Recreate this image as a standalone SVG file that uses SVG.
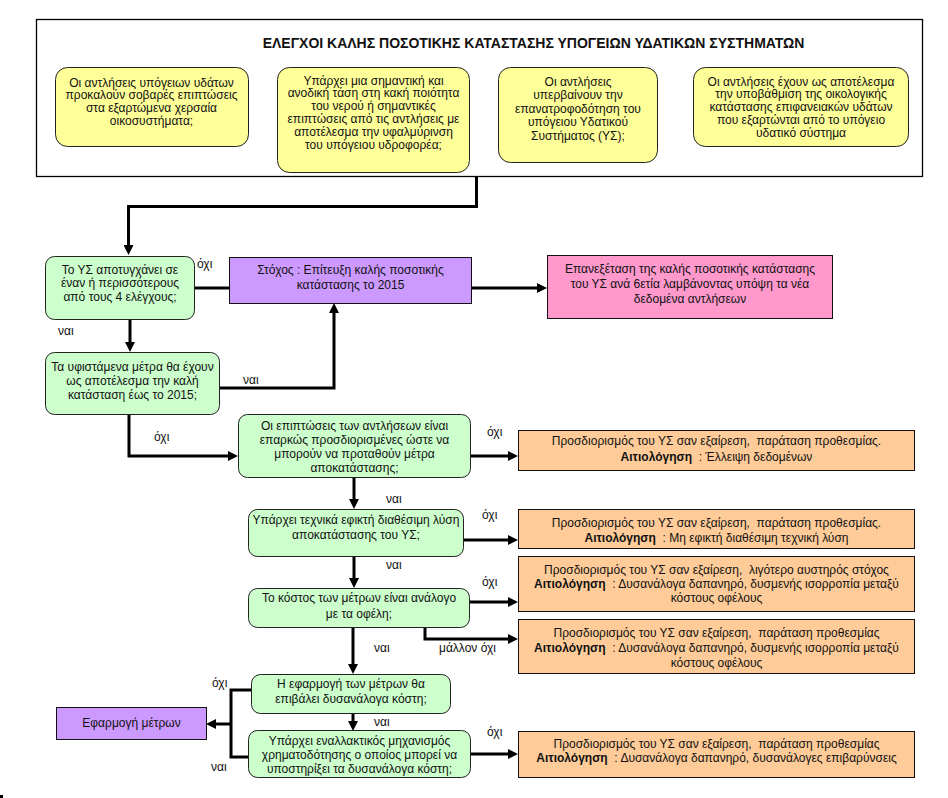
<svg xmlns="http://www.w3.org/2000/svg" width="948" height="798" viewBox="0 0 948 798">
<defs>
<style>
text{font-family:"Liberation Sans",Arial,sans-serif;font-size:12px;fill:#111;}
.y{font-size:12px;}
.c{text-anchor:middle;}
.b{font-weight:bold;}
.title{font-size:14px;font-weight:bold;text-anchor:middle;}
.yel{fill:#FFFF99;stroke:#222;stroke-width:1;}
.grn{fill:#CCFFCC;stroke:#222;stroke-width:1;}
.pur{fill:#CC99FF;stroke:#111;stroke-width:1;}
.pnk{fill:#FF99CC;stroke:#111;stroke-width:1;}
.org{fill:#FFCC99;stroke:#111;stroke-width:1;}
.ln{fill:none;stroke:#000;stroke-width:3;}
</style>
<marker id="ah" viewBox="0 0 10 10" refX="0" refY="5" markerWidth="10" markerHeight="10" markerUnits="userSpaceOnUse" orient="auto">
<path d="M0,0 L10,5 L0,10 z" fill="#000"/>
</marker>
</defs>
<rect width="948" height="798" fill="#fff"/>

<g id="frame">
<rect x="36.5" y="19.5" width="886" height="157" fill="#fff" stroke="#000" stroke-width="1.3"/>
<text class="title" x="533.5" y="48">ΕΛΕΓΧΟΙ ΚΑΛΗΣ ΠΟΣΟΤΙΚΗΣ ΚΑΤΑΣΤΑΣΗΣ ΥΠΟΓΕΙΩΝ ΥΔΑΤΙΚΩΝ ΣΥΣΤΗΜΑΤΩΝ</text>
</g>

<g id="check1">
<rect class="yel" x="55.5" y="67.5" width="193" height="79" rx="12"/>
<text class="c y" x="151.5" y="86.5">Οι αντλήσεις υπόγειων υδάτων</text>
<text class="c y" x="151.5" y="99.2">προκαλούν σοβαρές επιπτώσεις</text>
<text class="c y" x="151.5" y="111.9">στα εξαρτώμενα χερσαία</text>
<text class="c y" x="151.5" y="124.6">οικοσυστήματα;</text>
</g>
<g id="check2">
<rect class="yel" x="277.5" y="67.5" width="192" height="105" rx="12"/>
<text class="c y" x="373.5" y="84.5">Υπάρχει μια σημαντική και</text>
<text class="c y" x="373.5" y="97.3">ανοδική τάση στη κακή ποιότητα</text>
<text class="c y" x="373.5" y="110.1">του νερού ή σημαντικές</text>
<text class="c y" x="373.5" y="122.9">επιπτώσεις από τις αντλήσεις με</text>
<text class="c y" x="373.5" y="135.7">αποτέλεσμα την υφαλμύρινση</text>
<text class="c y" x="373.5" y="148.5">του υπόγειου υδροφορέα;</text>
</g>
<g id="check3">
<rect class="yel" x="498.5" y="67.5" width="159" height="95" rx="12"/>
<text class="c y" x="578" y="86">Οι αντλήσεις</text>
<text class="c y" x="578" y="99.4">υπερβαίνουν την</text>
<text class="c y" x="578" y="112.8">επανατροφοδότηση του</text>
<text class="c y" x="578" y="126.2">υπόγειου Υδατικού</text>
<text class="c y" x="578" y="139.6">Συστήματος (ΥΣ);</text>
</g>
<g id="check4">
<rect class="yel" x="693.5" y="67.5" width="215" height="79" rx="12"/>
<text class="c y" x="801" y="85.5">Οι αντλήσεις έχουν ως αποτέλεσμα</text>
<text class="c y" x="801" y="98.4">την υποβάθμιση της οικολογικής</text>
<text class="c y" x="801" y="111.3">κατάστασης επιφανειακών υδάτων</text>
<text class="c y" x="801" y="124.2">που εξαρτώνται από το υπόγειο</text>
<text class="c y" x="801" y="137.1">υδατικό σύστημα</text>
</g>

<g id="connectors">
<path class="ln" d="M476.5,176 V206.5 H128.5 V245" marker-end="url(#ah)"/>
<path class="ln" d="M194,288 H229"/>
<path class="ln" d="M471,288 H537" marker-end="url(#ah)"/>
<path class="ln" d="M130,319 V342" marker-end="url(#ah)"/>
<path class="ln" d="M219,388 H334 V313" marker-end="url(#ah)"/>
<path class="ln" d="M129,414 V456 H228" marker-end="url(#ah)"/>
<path class="ln" d="M470,456 H508" marker-end="url(#ah)"/>
<path class="ln" d="M354,477 V499" marker-end="url(#ah)"/>
<path class="ln" d="M463,540 H508" marker-end="url(#ah)"/>
<path class="ln" d="M354,556 V578" marker-end="url(#ah)"/>
<path class="ln" d="M469,602 H508" marker-end="url(#ah)"/>
<path class="ln" d="M425,627 V639 H508" marker-end="url(#ah)"/>
<path class="ln" d="M353,627 V664" marker-end="url(#ah)"/>
<path class="ln" d="M353,713 V721" marker-end="url(#ah)"/>
<path class="ln" d="M251,690 H231 V757 H248"/>
<path class="ln" d="M231,724 H216" marker-end="url(#ah)"/>
<path class="ln" d="M470,754 H508" marker-end="url(#ah)"/>
<text x="197" y="268">όχι</text>
<text x="58" y="335">ναι</text>
<text x="243" y="384">ναι</text>
<text x="154" y="441">όχι</text>
<text x="487" y="436">όχι</text>
<text x="386" y="503">ναι</text>
<text x="482" y="519">όχι</text>
<text x="386" y="569">ναι</text>
<text x="482" y="586">όχι</text>
<text x="374" y="652">ναι</text>
<text x="439" y="652">μάλλον όχι</text>
<text x="212" y="687">όχι</text>
<text x="374" y="726">ναι</text>
<text x="211" y="771">ναι</text>
<text x="487" y="736">όχι</text>
</g>

<g id="q1">
<rect class="grn" x="45.5" y="256.5" width="149" height="63" rx="9"/>
<text class="c" x="120" y="273.5">Το ΥΣ αποτυγχάνει σε</text>
<text class="c" x="120" y="287">έναν ή περισσότερους</text>
<text class="c" x="120" y="300.5">από τους 4 ελέγχους;</text>
</g>
<g id="goal">
<rect class="pur" x="229.5" y="257.5" width="242" height="46"/>
<text class="c" x="350.5" y="273.5">Στόχος : Επίτευξη καλής ποσοτικής</text>
<text class="c" x="350.5" y="288.5">κατάστασης το 2015</text>
</g>
<g id="review">
<rect class="pnk" x="547.5" y="255.5" width="285" height="63"/>
<text class="c" x="690" y="272.5">Επανεξέταση της καλής ποσοτικής κατάστασης</text>
<text class="c" x="690" y="287.5">του ΥΣ ανά 6ετία λαμβάνοντας υπόψη τα νέα</text>
<text class="c" x="690" y="302.5">δεδομένα αντλήσεων</text>
</g>
<g id="q2">
<rect class="grn" x="45.5" y="352.5" width="174" height="62" rx="9"/>
<text class="c" x="132.5" y="371">Τα υφιστάμενα μέτρα θα έχουν</text>
<text class="c" x="132.5" y="385">ως αποτέλεσμα την καλή</text>
<text class="c" x="132.5" y="399">κατάσταση έως το 2015;</text>
</g>
<g id="q3">
<rect class="grn" x="238.5" y="414.5" width="232" height="63" rx="9"/>
<text class="c" x="354.5" y="429.5">Οι επιπτώσεις των αντλήσεων είναι</text>
<text class="c" x="354.5" y="443.5">επαρκώς προσδιορισμένες ώστε να</text>
<text class="c" x="354.5" y="457.5">μπορούν να προταθούν μέτρα</text>
<text class="c" x="354.5" y="471.5">αποκατάστασης;</text>
</g>
<g id="r1">
<rect class="org" x="518.5" y="430.5" width="396" height="40"/>
<text class="c" x="716.5" y="444.5">Προσδιορισμός του ΥΣ σαν εξαίρεση,&#160; παράταση προθεσμίας.</text>
<text class="c" x="716.5" y="460.5"><tspan class="b">Αιτιολόγηση</tspan>&#160; : Έλλειψη δεδομένων</text>
</g>
<g id="q4">
<rect class="grn" x="248.5" y="509.5" width="215" height="47" rx="9"/>
<text class="c" x="356" y="523.5">Υπάρχει τεχνικά εφικτή διαθέσιμη λύση</text>
<text class="c" x="356" y="538.5">αποκατάστασης του ΥΣ;</text>
</g>
<g id="r2">
<rect class="org" x="518.5" y="509.5" width="396" height="39"/>
<text class="c" x="716.5" y="526.5">Προσδιορισμός του ΥΣ σαν εξαίρεση,&#160; παράταση προθεσμίας.</text>
<text class="c" x="716.5" y="541.5"><tspan class="b">Αιτιολόγηση</tspan>&#160; : Μη εφικτή διαθέσιμη τεχνική λύση</text>
</g>
<g id="r3">
<rect class="org" x="518.5" y="556.5" width="396" height="55"/>
<text class="c" x="716.5" y="573.5">Προσδιορισμός του ΥΣ σαν εξαίρεση,&#160; λιγότερο αυστηρός στόχος</text>
<text class="c" x="716.5" y="587.5"><tspan class="b">Αιτιολόγηση</tspan>&#160; : Δυσανάλογα δαπανηρό, δυσμενής ισορροπία μεταξύ</text>
<text class="c" x="716.5" y="601.5">κόστους οφέλους</text>
</g>
<g id="q5">
<rect class="grn" x="248.5" y="588.5" width="221" height="39" rx="9"/>
<text class="c" x="359" y="601.5">Το κόστος των μέτρων είναι ανάλογο</text>
<text class="c" x="359" y="617.5">με τα οφέλη;</text>
</g>
<g id="r4">
<rect class="org" x="518.5" y="619.5" width="396" height="54"/>
<text class="c" x="716.5" y="636.5">Προσδιορισμός του ΥΣ σαν εξαίρεση,&#160; παράταση προθεσμίας</text>
<text class="c" x="716.5" y="651.5"><tspan class="b">Αιτιολόγηση</tspan>&#160; : Δυσανάλογα δαπανηρό, δυσμενής ισορροπία μεταξύ</text>
<text class="c" x="716.5" y="666.5">κόστους οφέλους</text>
</g>
<g id="q6">
<rect class="grn" x="251.5" y="674.5" width="199" height="39" rx="9"/>
<text class="c" x="351" y="687.5">Η εφαρμογή των μέτρων θα</text>
<text class="c" x="351" y="702.5">επιβάλει δυσανάλογα κόστη;</text>
</g>
<g id="apply">
<rect class="pur" x="56.5" y="707.5" width="150" height="32"/>
<text class="c" x="131.5" y="727">Εφαρμογή μέτρων</text>
</g>
<g id="q7">
<rect class="grn" x="248.5" y="730.5" width="222" height="47" rx="9"/>
<text class="c" x="359.5" y="744.5">Υπάρχει εναλλακτικός μηχανισμός</text>
<text class="c" x="359.5" y="758.5">χρηματοδότησης ο οποίος μπορεί να</text>
<text class="c" x="359.5" y="772.5">υποστηρίξει τα δυσανάλογα κόστη;</text>
</g>
<g id="r5">
<rect class="org" x="518.5" y="731.5" width="396" height="46"/>
<text class="c" x="716.5" y="747.5">Προσδιορισμός του ΥΣ σαν εξαίρεση,&#160; παράταση προθεσμίας</text>
<text class="c" x="716.5" y="761.5"><tspan class="b">Αιτιολόγηση</tspan>&#160; : Δυσανάλογα δαπανηρό, δυσανάλογες επιβαρύνσεις</text>
</g>
<rect x="0" y="795" width="3" height="3" fill="#000"/>
</svg>
